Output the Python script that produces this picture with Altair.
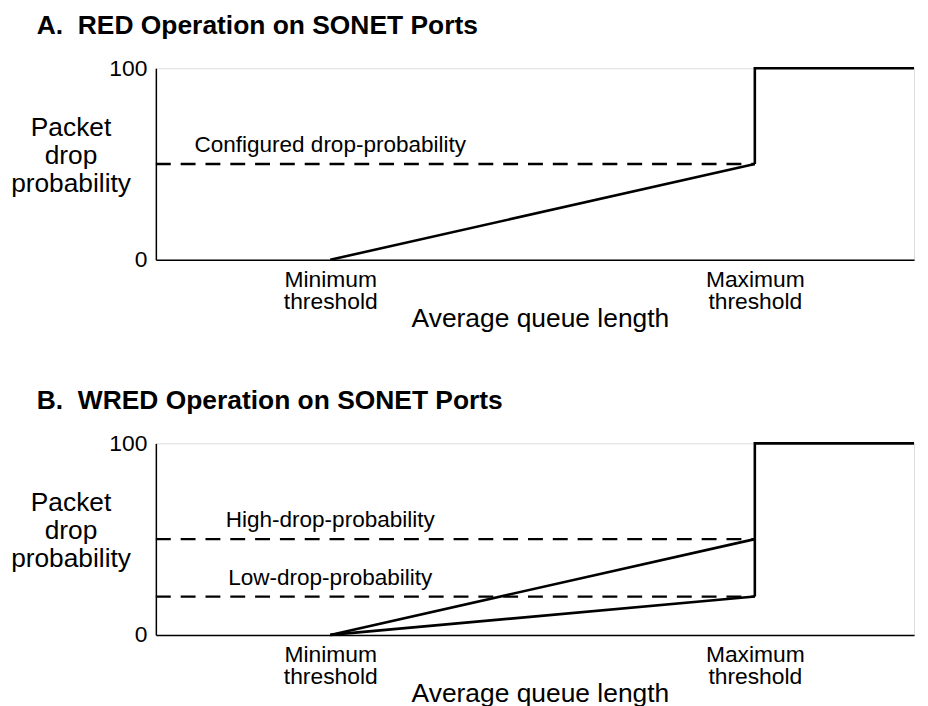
import altair as alt
import pandas as pd

# ---- data ----
x_ticks = [23, 79]                      # minimum / maximum threshold positions
x_tick_labels = [["Minimum", "threshold"], ["Maximum", "threshold"]]
x_end = 100
y_ticks = [0, 100]
y_max = 100

red_probs = [50]
red_prob_labels = ["Configured drop-probability"]
wred_probs = [50, 20]
wred_prob_labels = ["High-drop-probability", "Low-drop-probability"]

panel_titles = ["A.\u00a0 RED Operation on SONET Ports", "B.\u00a0 WRED Operation on SONET Ports"]
x_title = "Average queue length"
y_title = ["Packet", "drop", "probability"]

FONT = "Liberation Sans"
W, H = 764, 193


def label_expr():
    parts = []
    for v, lab in zip(x_ticks, x_tick_labels):
        arr = "[" + ",".join("'" + s + "'" for s in lab) + "]"
        parts.append((v, arr))
    return f"datum.value == {parts[0][0]} ? {parts[0][1]} : {parts[1][1]}"


def panel(title, probs, labels):
    mn, mx = x_ticks
    solid_rows = []
    for k, p in enumerate(probs):
        solid_rows += [dict(s=f"r{k}", i=0, x=mn, y=0), dict(s=f"r{k}", i=1, x=mx, y=p)]
    solid_rows += [dict(s="step", i=0, x=mx, y=min(probs)),
                   dict(s="step", i=1, x=mx, y=y_max),
                   dict(s="step", i=2, x=x_end, y=y_max)]
    dash_rows = []
    for k, p in enumerate(probs):
        dash_rows += [dict(s=f"d{k}", i=0, x=0, y=p), dict(s=f"d{k}", i=1, x=mx, y=p)]
    text_rows = [dict(x=mn, y=p, t=t) for p, t in zip(probs, labels)]

    xs = alt.Scale(domain=[0, x_end], nice=False, zero=False)
    ys = alt.Scale(domain=[0, y_max], nice=False)

    xaxis = alt.Axis(values=x_ticks, labelExpr=label_expr(), ticks=False, grid=False,
                     domainColor="black", domainWidth=1.5, labelFontSize=23, labelFont=FONT,
                     labelColor="black", labelPadding=9, labelLineHeight=22,
                     labelFlush=False, labelOverlap=False,
                     title=x_title, titleFont=FONT, titleFontSize=26.6, titleFontWeight="normal",
                     titleColor="black", titleX=387, titleY=67, titleBaseline="alphabetic")
    yaxis = alt.Axis(values=y_ticks, ticks=False, grid=False, domainColor="black", domainWidth=1.5,
                     labelFontSize=23, labelFont=FONT, labelColor="black", labelPadding=9,
                     labelFlush=False,
                     title=y_title, titleAngle=0, titleAlign="center", titleX=-86, titleY=68,
                     titleBaseline="alphabetic", titleFont=FONT, titleFontSize=26.5,
                     titleFontWeight="normal", titleColor="black", titleLineHeight=28)

    base_x = alt.X("x:Q", scale=xs, axis=xaxis)
    base_y = alt.Y("y:Q", scale=ys, axis=yaxis)

    solid = alt.Chart(pd.DataFrame(solid_rows)).mark_line(color="black", strokeWidth=2.6).encode(
        x=base_x, y=base_y, detail="s:N", order="i:Q")
    dashed = alt.Chart(pd.DataFrame(dash_rows)).mark_line(
        color="black", strokeWidth=2.4, strokeDash=[15, 10]).encode(
        x=alt.X("x:Q", scale=xs), y=alt.Y("y:Q", scale=ys), detail="s:N", order="i:Q")
    txt = alt.Chart(pd.DataFrame(text_rows)).mark_text(
        font=FONT, fontSize=22.7, color="black", dy=-12, baseline="alphabetic", align="center").encode(
        x=alt.X("x:Q", scale=xs), y=alt.Y("y:Q", scale=ys), text="t:N")

    return alt.layer(dashed, solid, txt).properties(
        width=W, height=H,
        title=alt.TitleParams(text=title, anchor="start", frame="group", dx=-120,
                              fontSize=26.6, fontWeight="bold", font=FONT, color="black",
                              baseline="alphabetic", offset=-3))


chart = alt.vconcat(
    panel(panel_titles[0], red_probs, red_prob_labels),
    panel(panel_titles[1], wred_probs, wred_prob_labels),
    spacing=54,
).properties(padding={"left": 2, "top": 1, "right": 0, "bottom": 0}
).configure_view(stroke=None).configure(background="white")

chart.save("out.html", embed_options={"renderer": "svg", "actions": False})
